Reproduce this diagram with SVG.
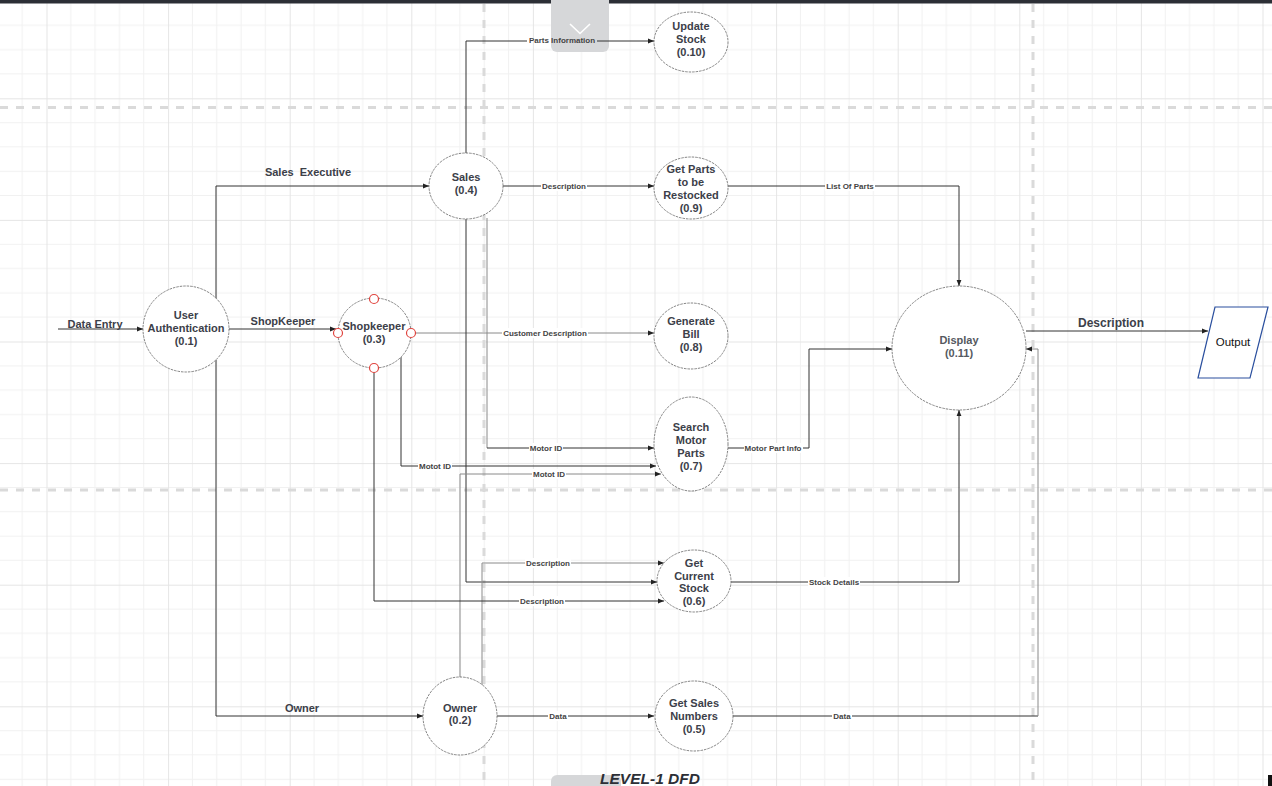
<svg xmlns="http://www.w3.org/2000/svg" width="1272" height="786" viewBox="0 0 1272 786">
<defs>
<pattern id="grid" x="46.5" y="98.3" width="121.6" height="121.6" patternUnits="userSpaceOnUse">
<path d="M24.32 0V121.6M48.64 0V121.6M72.96 0V121.6M97.28 0V121.6M0 24.32H121.6M0 48.64H121.6M0 72.96H121.6M0 97.28H121.6" stroke="#f1f1f1" stroke-width="1" fill="none"/>
<path d="M0.5 0V121.6M0 0.5H121.6" stroke="#e5e5e5" stroke-width="1" fill="none"/>
</pattern>
<marker id="ah" viewBox="0 0 10 10" refX="10" refY="5" markerWidth="6" markerHeight="6" orient="auto" markerUnits="userSpaceOnUse">
<path d="M0 1L10 5L0 9z" fill="#222"/>
</marker>
</defs>
<style>
.node ellipse{fill:#fff;stroke:#666;stroke-width:0.8;stroke-dasharray:2.5 1}
.node text{font-family:"Liberation Sans",Arial,sans-serif;font-weight:bold;font-size:11px;fill:#3c4049;text-anchor:middle}
.c{fill:none;stroke:#333;stroke-width:1}
.cl{fill:none;stroke:#8a8a8a;stroke-width:1}
.arr{marker-end:url(#ah)}
.lbl rect{fill:#fff}
.lbl text{font-family:"Liberation Sans",Arial,sans-serif;font-weight:bold;font-size:8px;fill:#444;text-anchor:middle}
.big{font-family:"Liberation Sans",Arial,sans-serif;font-weight:bold;font-size:11px;fill:#3c4049;text-anchor:middle;white-space:pre}
.dash{stroke:#dadada;stroke-width:3;stroke-dasharray:8 8;fill:none}
.red{fill:#fff;stroke:#e0443e;stroke-width:1.2}
</style>
<rect width="1272" height="786" fill="#fff"/>
<rect width="1272" height="786" fill="url(#grid)"/>
<g id="guides">
<path class="dash" d="M0 107.5H1272M0 490H1272M484 4V786M1033 4V786"/>
</g>
<rect x="0" y="0" width="1272" height="3.5" fill="#2c2f36"/>
<g id="topbox">
<rect x="551" y="-6" width="58" height="58" rx="6" fill="#d6d7d9"/>
<path d="M570 24L580 33.5L590 24" fill="none" stroke="#fff" stroke-width="1.6"/>
</g>
<g id="connectors">
<path class="c arr" d="M58 329H143"/>
<path class="c arr" d="M216 300V186H429"/>
<path class="c arr" d="M229 329H336"/>
<path class="c arr" d="M216 360V716H423"/>
<path class="c" d="M466 153V41H527"/>
<path class="c arr" d="M597 41H654"/>
<path class="c arr" d="M503 186H654"/>
<path class="cl arr" d="M411 333H654"/>
<path class="cl" d="M487 218V448"/>
<path class="c arr" d="M487 448H654"/>
<path class="c arr" d="M466 219V582H657"/>
<path class="c arr" d="M401 357V466H656"/>
<path class="cl arr" d="M460 677V474H661"/>
<path class="cl arr" d="M482 685V563H664"/>
<path class="c arr" d="M374 372V601H664"/>
<path class="c arr" d="M497 716H654"/>
<path class="c arr" d="M728 186H959V286"/>
<path class="c arr" d="M728 448H809V349H892"/>
<path class="c arr" d="M731 582H959V410"/>
<path class="c" d="M733 716H1038"/>
<path class="cl arr" d="M1038 716V349H1026"/>
<path class="c arr" d="M1026 331H1208"/>
</g>
<g id="n-ua" class="node"><ellipse cx="186" cy="329" rx="43" ry="43"/><text x="186" y="319">User</text><text x="186" y="332">Authentication</text><text x="186" y="345">(0.1)</text></g>
<g id="n-shopkeeper" class="node"><ellipse cx="374.5" cy="333" rx="36.5" ry="35"/><text x="374" y="330">Shopkeeper</text><text x="374" y="343">(0.3)</text>
<circle class="red" cx="374" cy="299" r="4.5"/><circle class="red" cx="338" cy="333" r="4.5"/><circle class="red" cx="411" cy="333" r="4.5"/><circle class="red" cx="374" cy="368" r="4.5"/></g>
<g id="n-sales" class="node"><ellipse cx="466" cy="186" rx="37" ry="33"/><text x="466" y="181">Sales</text><text x="466" y="194">(0.4)</text></g>
<g id="n-update" class="node"><ellipse cx="691" cy="42" rx="37" ry="30"/><text x="691" y="30">Update</text><text x="691" y="43">Stock</text><text x="691" y="56">(0.10)</text></g>
<g id="n-restock" class="node"><ellipse cx="691" cy="188" rx="37" ry="31"/><text x="691" y="173">Get Parts</text><text x="691" y="186">to be</text><text x="691" y="199">Restocked</text><text x="691" y="212">(0.9)</text></g>
<g id="n-bill" class="node"><ellipse cx="691" cy="336" rx="37" ry="33"/><text x="691" y="325">Generate</text><text x="691" y="338">Bill</text><text x="691" y="351">(0.8)</text></g>
<g id="n-search" class="node"><ellipse cx="691" cy="444" rx="37" ry="47"/><text x="691" y="431">Search</text><text x="691" y="444">Motor</text><text x="691" y="457">Parts</text><text x="691" y="470">(0.7)</text></g>
<g id="n-stock" class="node"><ellipse cx="694" cy="581" rx="37" ry="31"/><text x="694" y="567">Get</text><text x="694" y="580">Current</text><text x="694" y="592">Stock</text><text x="694" y="605">(0.6)</text></g>
<g id="n-owner" class="node"><ellipse cx="460" cy="716" rx="37" ry="39"/><text x="460" y="712">Owner</text><text x="460" y="724">(0.2)</text></g>
<g id="n-salesnum" class="node"><ellipse cx="694" cy="716" rx="39" ry="35"/><text x="694" y="707">Get Sales</text><text x="694" y="720">Numbers</text><text x="694" y="733">(0.5)</text></g>
<g id="n-display" class="node"><ellipse cx="959" cy="348" rx="67" ry="62"/><text x="959" y="344" style="fill:#55595f">Display</text><text x="959" y="357" style="fill:#55595f">(0.11)</text></g>
<g id="n-output"><path d="M1215 307H1268L1250 378H1198Z" fill="#fff" stroke="#2a4f9e" stroke-width="1.2"/><text x="1233" y="346" font-family="Liberation Sans, Arial, sans-serif" font-size="11.5" fill="#111" text-anchor="middle">Output</text></g>
<g id="labels">
<g class="lbl"><text x="562" y="43">Parts Information</text></g>
<g class="lbl"><rect x="541" y="181" width="46" height="10"/><text x="564" y="189">Description</text></g>
<g class="lbl"><rect x="502" y="328" width="86" height="10"/><text x="545" y="336">Customer Description</text></g>
<g class="lbl"><rect x="529" y="443" width="34" height="10"/><text x="546" y="451">Motor ID</text></g>
<g class="lbl"><rect x="418" y="461" width="34" height="10"/><text x="435" y="469">Motot ID</text></g>
<g class="lbl"><rect x="532" y="469" width="34" height="10"/><text x="549" y="477">Motot ID</text></g>
<g class="lbl"><rect x="525" y="558" width="46" height="10"/><text x="548" y="566">Description</text></g>
<g class="lbl"><rect x="519" y="596" width="46" height="10"/><text x="542" y="604">Description</text></g>
<g class="lbl"><rect x="548" y="711" width="20" height="10"/><text x="558" y="719">Data</text></g>
<g class="lbl"><rect x="825" y="181" width="50" height="10"/><text x="850" y="189">List Of Parts</text></g>
<g class="lbl"><rect x="744" y="443" width="59" height="10"/><text x="773" y="451">Motor Part Info</text></g>
<g class="lbl"><rect x="808" y="577" width="52" height="10"/><text x="834" y="585">Stock Details</text></g>
<g class="lbl"><rect x="832" y="711" width="20" height="10"/><text x="842" y="719">Data</text></g>
<text class="big" x="95" y="328">Data Entry</text>
<text class="big" x="308" y="176" xml:space="preserve">Sales  Executive</text>
<text class="big" x="283" y="325">ShopKeeper</text>
<text class="big" x="302" y="712">Owner</text>
<text class="big" x="1111" y="327" style="font-size:12px">Description</text>
</g>
<g id="title">
<rect x="551" y="775" width="70" height="20" rx="6" fill="#d6d7d9"/>
<text x="650" y="784" font-family="Liberation Sans, Arial, sans-serif" font-weight="bold" font-style="italic" font-size="15.5" fill="#2c2f36" text-anchor="middle">LEVEL-1 DFD</text>
</g>
<rect x="1268" y="775" width="4" height="11" fill="#111"/>
</svg>
